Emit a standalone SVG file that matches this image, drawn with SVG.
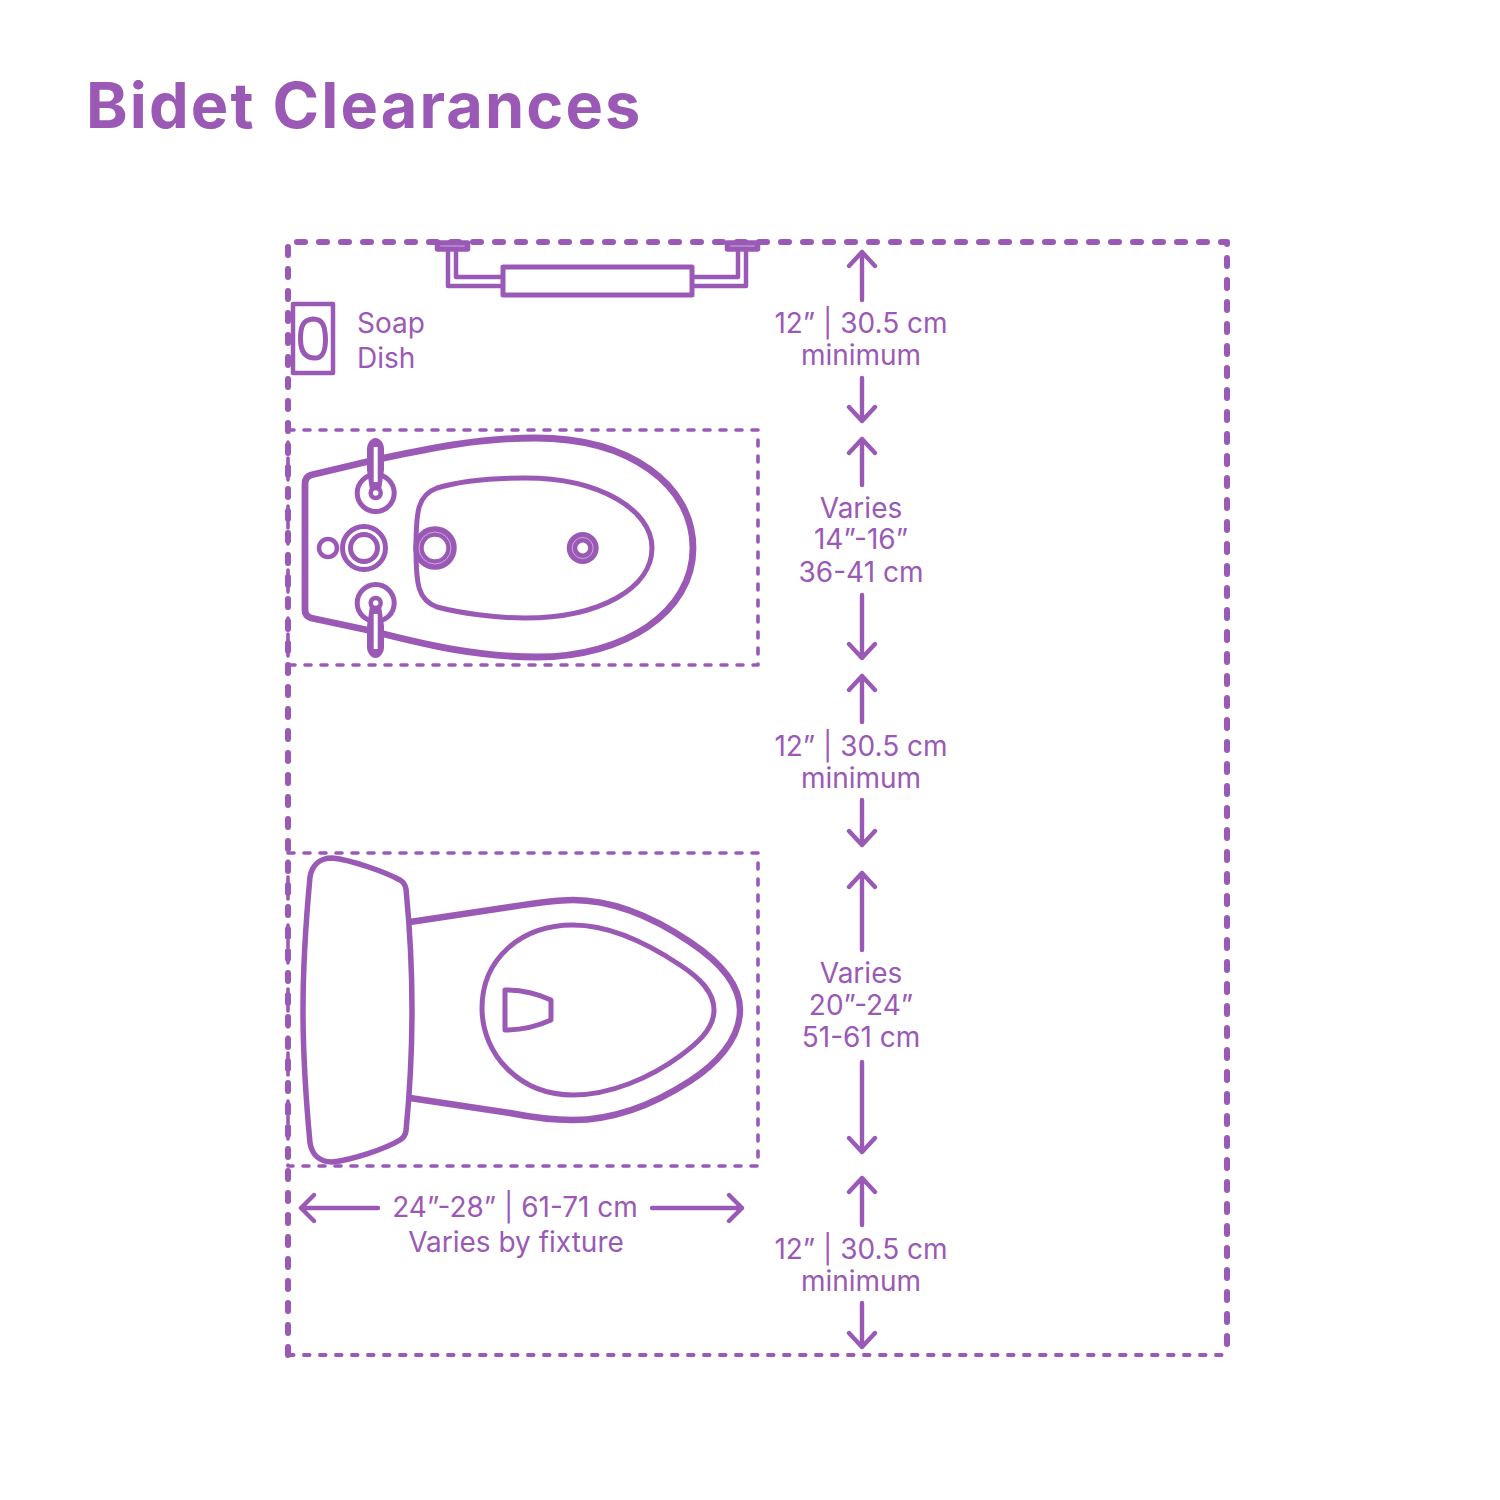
<svg xmlns="http://www.w3.org/2000/svg" width="1500" height="1500" viewBox="0 0 1500 1500">
<style>
.o{fill:none;stroke:#9b59b6;stroke-linecap:round;stroke-linejoin:round}
.w{fill:#fff;stroke:#9b59b6;stroke-linejoin:round}
.f{fill:#9b59b6;stroke:none}
.h{fill:none;stroke:#fff;stroke-width:.6;stroke-opacity:.8}
.t{font-family:"Inter","Liberation Sans",sans-serif;font-weight:400;font-size:28px;fill:#9b59b6}
.m{text-anchor:middle}
.a{fill:none;stroke:#9b59b6;stroke-width:4.4;stroke-linecap:round;stroke-linejoin:round}
</style>
<rect width="1500" height="1500" fill="#fff"/>
<text x="86" y="128" font-family="Inter,'Liberation Sans',sans-serif" font-weight="700" font-size="63" letter-spacing="2.1" fill="#9b59b6">Bidet Clearances</text>
<g id="boundaries">
<path class="o" d="M288 1355V242H1227V1355" stroke-width="6" stroke-dasharray="8 14"/>
<path class="o" d="M288 1355H1227" stroke-width="4" stroke-dasharray="5.5 10.5"/>
<rect class="o" x="288" y="430" width="470" height="235" stroke-width="3.6" stroke-dasharray="6 10"/>
<rect class="o" x="288" y="853" width="470" height="313" stroke-width="3.6" stroke-dasharray="6 10"/>
</g>
<g id="towel-bar">
<path class="o" stroke-width="4.5" d="M448 252V286H503M456 252V277H503M746 252V286H692M738 252V277H692"/>
<rect class="w" x="503" y="267" width="189" height="28" stroke-width="5"/>
<rect class="w" x="437.5" y="243" width="30" height="6" stroke-width="5.5"/>
<rect class="w" x="727.5" y="243" width="30" height="6" stroke-width="5.5"/>
</g>
<g id="soap-dish">
<rect class="w" x="293" y="304" width="40" height="69" stroke-width="4.5"/>
<path class="o" stroke-width="5" d="M300.500 339C300.500 326 303 320 313 319C323 319 325 326 325.500 339C325.500 351 323 358 315 358C305 358 300.500 351 300.500 339Z"/>
<text class="t" x="357" y="333">Soap</text>
<text class="t" x="357" y="368">Dish</text>
</g>
<g id="bidet">
<path class="o" stroke-width="6.8" d="M305 484Q305 477 311 475L370 461C430 448 480 438 535 438C630 438 693 485 693 548C693 612 625 657 537 657C480 657 430 646 372 631L311 618Q305 616 305 610Z"/>
<path class="o" stroke-width="5" d="M416 548C416 510 418 495 437 488C460 481 495 478 525 478C600 478 652 510 652 548C652 588 600 618 525 618C495 618 460 613 437 607C418 600 416 585 416 548Z"/>
<circle class="w" cx="375.700" cy="493" r="18.500" stroke-width="5"/>
<circle class="w" cx="375.700" cy="603" r="18.500" stroke-width="5"/>
<path class="f" d="M375.500 438C380 438 384 443 384 449V470L381 490H370L367 470V449C367 443 371 438 375.500 438Z"/>
<path class="f" d="M375.500 658C380 658 384 653 384 647V626L381 606H370L367 626V647C367 653 371 658 375.500 658Z"/>
<path d="M375.700 447V482M375.700 614V649" stroke="#fff" stroke-width="4" fill="none"/>
<circle class="w" cx="375.700" cy="493" r="5" stroke-width="4.500"/>
<circle class="w" cx="375.700" cy="603" r="5" stroke-width="4.500"/>
<circle class="w" cx="364" cy="548" r="21.500" stroke-width="5"/>
<circle class="w" cx="364" cy="548" r="13.500" stroke-width="5"/>
<circle class="w" cx="328" cy="548" r="9" stroke-width="4.500"/>
<circle class="w" cx="435" cy="548" r="16.500" stroke-width="10.500"/>
<circle class="h" cx="435" cy="548" r="16"/>
<circle class="w" cx="582.700" cy="548" r="10.700" stroke-width="10.500"/>
<circle class="h" cx="582.700" cy="548" r="10.500"/>
</g>
<g id="toilet">
<path class="o" stroke-width="5.500" d="M332 858C352 860 385 872 400 880Q405 883 406 889C410 930 412 970 412 1010C412 1050 410 1090 406 1131Q405 1137 400 1140C385 1149 352 1160 332 1162C320 1162 312 1155 310 1143C306 1100 303 1060 303 1010C303 960 306 920 310 877C312 865 320 858 332 858Z"/>
<path class="o" stroke-width="6.400" d="M410 922L510 907C535 903 555 900 573 900C610 900 650 915 690 942C720 962 740 985 740 1010C740 1040 715 1065 690 1081C650 1107 610 1120 573 1120C555 1120 535 1118 510 1113L410 1098"/>
<path class="o" stroke-width="5" d="M482 1008C482 960 520 925 573 925C610 925 650 945 680 965C700 978 714 992 714 1010C714 1030 695 1045 680 1056C650 1078 610 1095 573 1095C520 1095 482 1055 482 1008Z"/>
<path class="o" stroke-width="5" d="M505 990C522 990 538 994 551 1000V1020C538 1026 522 1030 505 1030Z"/>
</g>
<g id="connectors">
<path class="a" d="M862 300V252M849 266L862 252L875 266M862 378V421M849 407L862 421L875 407"/>
<path class="a" d="M862 485V439M849 453L862 439L875 453M862 595V658M849 644L862 658L875 644"/>
<path class="a" d="M862 722V676M849 690L862 676L875 690M862 800V845M849 831L862 845L875 831"/>
<path class="a" d="M862 950V873M849 887L862 873L875 887M862 1062V1152M849 1138L862 1152L875 1138"/>
<path class="a" d="M862 1225V1178M849 1192L862 1178L875 1192M862 1303V1347M849 1333L862 1347L875 1333"/>
<path class="a" d="M378 1208H301M314 1195L301 1208L314 1221M652 1208H742M729 1195L742 1208L729 1221"/>
</g>
<g id="labels">
<text class="t m" x="861" y="333">12” | 30.5 cm</text>
<text class="t m" x="861" y="365">minimum</text>
<text class="t m" x="861" y="518">Varies</text>
<text class="t m" x="861" y="549">14”-16”</text>
<text class="t m" x="861" y="582">36-41 cm</text>
<text class="t m" x="861" y="756">12” | 30.5 cm</text>
<text class="t m" x="861" y="788">minimum</text>
<text class="t m" x="861" y="983">Varies</text>
<text class="t m" x="861" y="1015">20”-24”</text>
<text class="t m" x="861" y="1047">51-61 cm</text>
<text class="t m" x="861" y="1259">12” | 30.5 cm</text>
<text class="t m" x="861" y="1291">minimum</text>
<text class="t m" x="515" y="1217">24”-28” | 61-71 cm</text>
<text class="t m" x="516" y="1252">Varies by fixture</text>
</g>
</svg>
